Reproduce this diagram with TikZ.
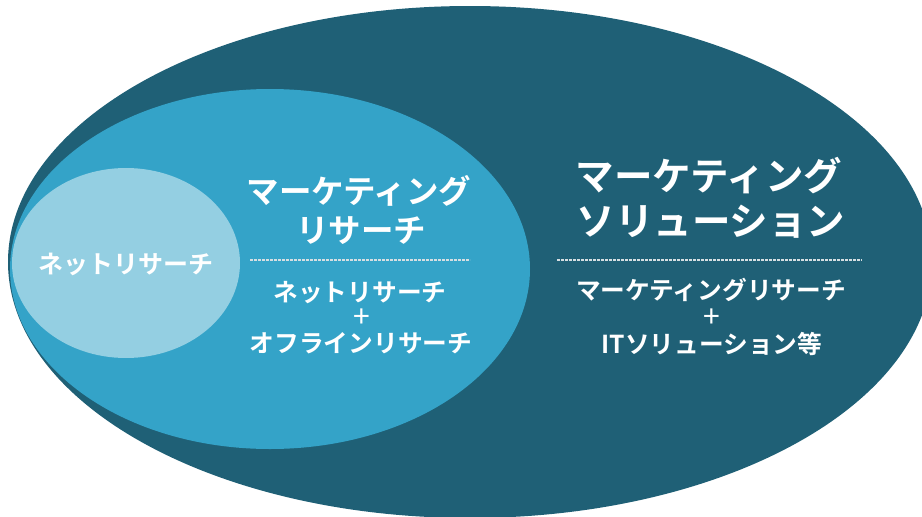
\documentclass[tikz,border=0pt]{standalone}
\usepackage{fontspec}
\setmainfont{Noto Sans CJK JP}[BoldFont={Noto Sans CJK JP Bold}]
\definecolor{outerc}{HTML}{1F6076}
\definecolor{midc}{HTML}{34A3C8}
\definecolor{innerc}{HTML}{94CFE2}
\definecolor{dashc}{HTML}{D5DEE2}
\tikzset{
  lbl/.style={text=white, font=\bfseries\fontsize{#1}{#1}\selectfont, inner sep=0pt, anchor=base, yshift={-0.37*#1pt}},
  plus/.style={text=white, font=\fontsize{30}{30}\selectfont, inner sep=0pt, anchor=base, yshift={-0.33*30pt}},
  sepline/.style={draw=dashc, line width=1.1pt, dash pattern=on 2.6pt off 1.4pt}
}
\begin{document}
\begin{tikzpicture}[x=1pt, y=-1pt]
\useasboundingbox (0,0) rectangle (922,517);
\begin{scope}
\clip (0,0) rectangle (922,517);
\fill[outerc] (470,262) ellipse [x radius=462, y radius=256];
\fill[midc] (270,269) ellipse [x radius=260, y radius=180];
\fill[innerc] (126,263) ellipse [x radius=114, y radius=95];
\end{scope}
% inner ellipse
\node[lbl=25] (net) at (126,264) {ネットリサーチ};
% middle ellipse
\node[lbl=32.5] (mr1) at (359,191) {マーケティング};
\node[lbl=32.5] (mr2) at (361,230) {リサーチ};
\coordinate (mdA) at (250,260);
\coordinate (mdB) at (470,260);
\draw[sepline] (mdA) -- (mdB);
\node[lbl=24.7] (mr3) at (360,292) {ネットリサーチ};
\node[plus] (mr4) at (362,318) {+};
\node[lbl=24.7] (mr5) at (361,343) {オフラインリサーチ};
% outer ellipse
\node[lbl=38.5] (ms1) at (709,176) {マーケティング};
\node[lbl=38.5] (ms2) at (711,221) {ソリューション};
\coordinate (odA) at (557,260);
\coordinate (odB) at (862,260);
\draw[sepline] (odA) -- (odB);
\node[lbl=24.7] (ms3) at (711,290) {マーケティングリサーチ};
\node[plus] (ms4) at (712,318) {+};
\node[lbl=24.7] (ms5) at (712,344) {ITソリューション等};
\end{tikzpicture}
\end{document}
